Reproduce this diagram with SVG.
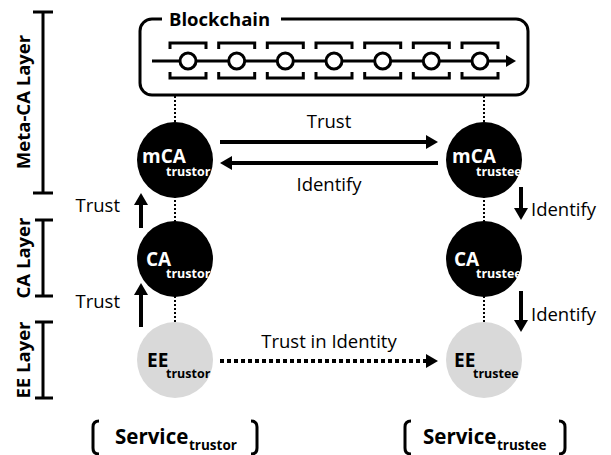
<svg xmlns="http://www.w3.org/2000/svg" width="611" height="455" viewBox="0 0 611 455">
<style>
text{font-family:"Open Sans","Liberation Sans",sans-serif;fill:#000}
.b{font-weight:bold}
.lbl{font-size:18.5px}
.big{font-size:18.5px;font-weight:bold}
.nb{font-size:19px;font-weight:bold}
.sub{font-size:12.5px;font-weight:bold}
.w{fill:#fff}
.arr{stroke:#000;stroke-width:4;fill:none;marker-end:url(#ah)}
.dot{stroke:#000;stroke-width:2;stroke-dasharray:2 2;fill:none}
.blk{stroke:#000;stroke-width:3;fill:none}
.br{stroke:#000;stroke-width:3;fill:none}
</style>
<defs>
<marker id="ah" markerUnits="userSpaceOnUse" markerWidth="14" markerHeight="14" viewBox="0 0 12 14" refX="1" refY="7" orient="auto"><path d="M0,0 L12,7 L0,14 Z" fill="#000"/></marker>
<marker id="ahs" markerUnits="userSpaceOnUse" markerWidth="12" markerHeight="12" viewBox="0 0 10 12" refX="1" refY="6" orient="auto"><path d="M0,0 L10,6 L0,12 Z" fill="#000"/></marker>
<g id="block"><path d="M-18,49 V43 H18 V49 M-18,72 V78 H18 V72" class="blk"/><circle cx="0" cy="61" r="8" fill="#fff" stroke="#000" stroke-width="3"/></g>
</defs>

<g id="layers">
<path class="br" d="M33,12 H53 M43,12 V193 M33,193 H53"/>
<text class="big" transform="translate(30,102) rotate(-90)" text-anchor="middle">Meta-CA Layer</text>
<path class="br" d="M35,220 H53 M43,220 V296 M35,296 H53"/>
<text class="big" transform="translate(30,258) rotate(-90)" text-anchor="middle">CA Layer</text>
<path class="br" d="M35,322 H53 M43,322 V398 M35,398 H53"/>
<text class="big" transform="translate(30,360) rotate(-90)" text-anchor="middle">EE Layer</text>
</g>

<g id="blockchain">
<path d="M281,19 H516 A12,12 0 0 1 528,31 V83 A12,12 0 0 1 516,95 H152 A12,12 0 0 1 140,83 V31 A12,12 0 0 1 152,19 H162" stroke="#000" stroke-width="3" fill="none"/>
<text class="big" x="169" y="26">Blockchain</text>
<line x1="152" y1="61" x2="507" y2="61" stroke="#000" stroke-width="3" marker-end="url(#ahs)"/>
<use href="#block" x="188"/>
<use href="#block" x="236.7"/>
<use href="#block" x="285.3"/>
<use href="#block" x="334"/>
<use href="#block" x="382.7"/>
<use href="#block" x="431.3"/>
<use href="#block" x="480"/>
</g>

<g id="connectors">
<line class="dot" x1="175" y1="96" x2="175" y2="360"/>
<line class="dot" x1="484" y1="96" x2="484" y2="360"/>
<line class="arr" x1="220" y1="142" x2="427" y2="142"/>
<line class="arr" x1="438" y1="163" x2="231" y2="163"/>
<line class="arr" x1="141" y1="228" x2="141" y2="204"/>
<line class="arr" x1="141" y1="327" x2="141" y2="294"/>
<line class="arr" x1="521" y1="187" x2="521" y2="209"/>
<line class="arr" x1="521" y1="291" x2="521" y2="321"/>
<line class="arr" x1="220" y1="361" x2="427" y2="361" stroke-dasharray="4 3"/>
<text class="lbl" x="329" y="128" text-anchor="middle">Trust</text>
<text class="lbl" x="329" y="191" text-anchor="middle">Identify</text>
<text class="lbl" x="120" y="212" text-anchor="end">Trust</text>
<text class="lbl" x="120" y="308" text-anchor="end">Trust</text>
<text class="lbl" x="531" y="216">Identify</text>
<text class="lbl" x="531" y="321">Identify</text>
<text class="lbl" x="329" y="348" text-anchor="middle">Trust in Identity</text>
</g>

<g id="mca-trustor">
<circle cx="175" cy="160" r="38" fill="#000"/>
<text class="nb w" x="142" y="163">mCA</text>
<text class="sub w" x="166" y="176">trustor</text>
</g>
<g id="mca-trustee">
<circle cx="484" cy="160" r="38" fill="#000"/>
<text class="nb w" x="452" y="163">mCA</text>
<text class="sub w" x="476" y="176">trustee</text>
</g>
<g id="ca-trustor">
<circle cx="175" cy="259" r="38" fill="#000"/>
<text class="nb w" x="146" y="266">CA</text>
<text class="sub w" x="166" y="278">trustor</text>
</g>
<g id="ca-trustee">
<circle cx="484" cy="259" r="38" fill="#000"/>
<text class="nb w" x="454" y="266">CA</text>
<text class="sub w" x="476" y="278">trustee</text>
</g>
<g id="ee-trustor">
<circle cx="175" cy="360" r="38" fill="#d9d9d9"/>
<text class="nb" x="147" y="367">EE</text>
<text class="sub" x="166" y="378">trustor</text>
</g>
<g id="ee-trustee">
<circle cx="484" cy="360" r="38" fill="#d9d9d9"/>
<text class="nb" x="454" y="367">EE</text>
<text class="sub" x="473" y="378">trustee</text>
</g>

<g id="service-trustor">
<path class="br" d="M99,421 Q93,421 93,427 V448 Q93,454 99,454 M251,421 Q257,421 257,427 V448 Q257,454 251,454"/>
<text class="b" x="115" y="444" font-size="20.5">Service</text>
<text class="b" x="189" y="450" font-size="13.5">trustor</text>
</g>
<g id="service-trustee">
<path class="br" d="M411,421 Q405,421 405,427 V448 Q405,454 411,454 M559,421 Q565,421 565,427 V448 Q565,454 559,454"/>
<text class="b" x="423" y="444" font-size="20.5">Service</text>
<text class="b" x="497" y="450" font-size="13.5">trustee</text>
</g>
</svg>
